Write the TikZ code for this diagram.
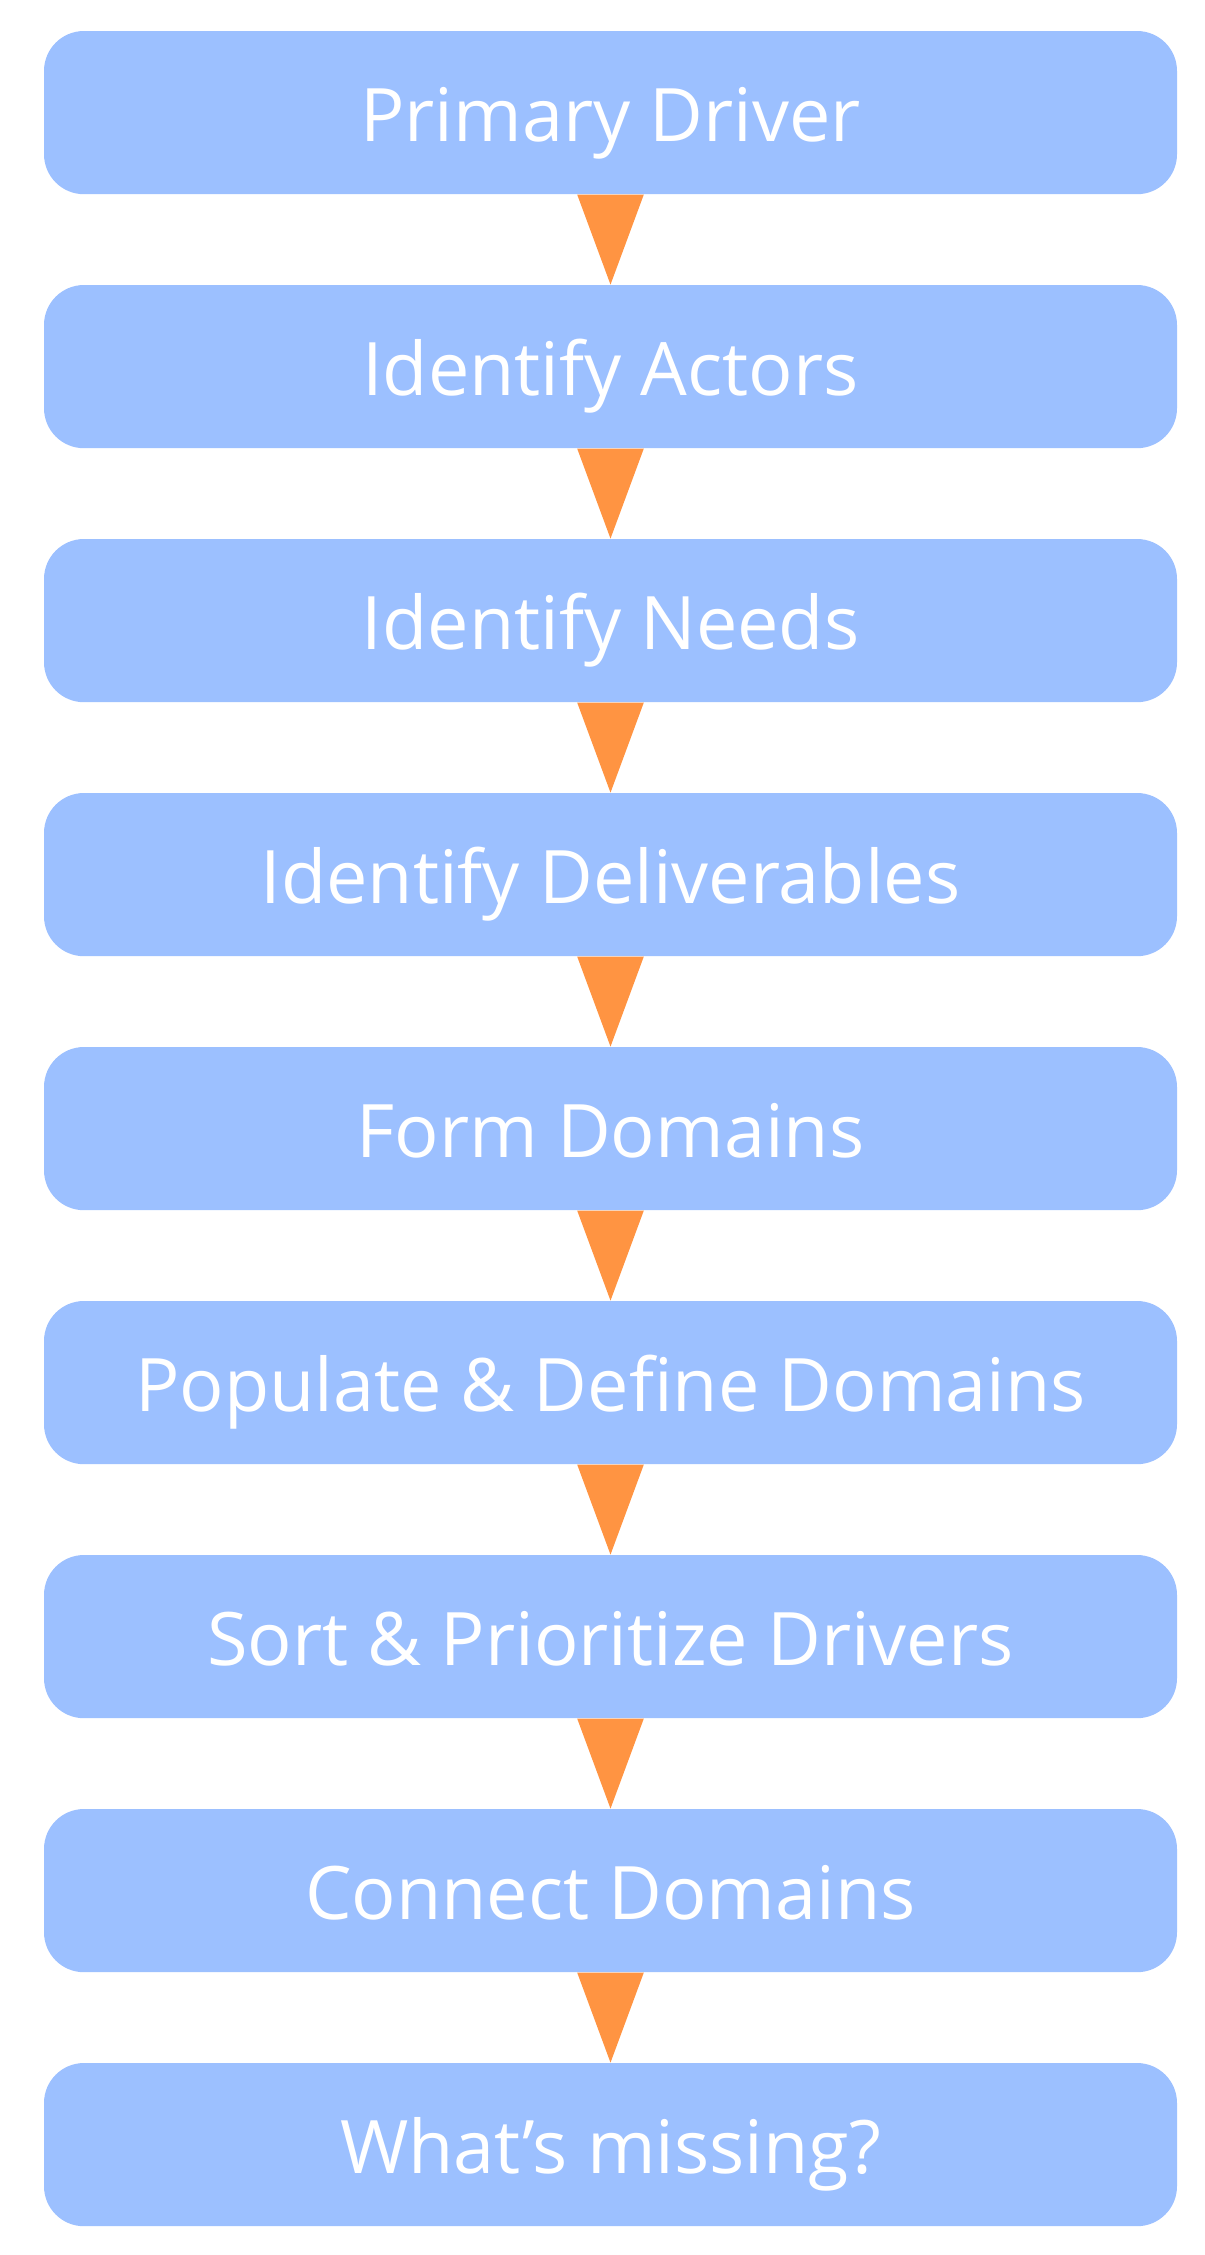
\documentclass[tikz,border=0pt]{standalone}
\usepackage{fontspec}
\setmainfont{Open Sans}
\definecolor{boxblue}{RGB}{156,192,255}
\definecolor{arroworange}{RGB}{255,148,66}
\begin{document}
\begin{tikzpicture}[x=0.5pt,y=-0.5pt,
  stepbox/.style={rectangle, rounded corners=20pt, fill=boxblue, draw=none,
    minimum width=566.5pt, minimum height=81.6pt, inner sep=0pt,
    text height=29.1pt, text depth=0pt, text=white,
    font=\fontsize{36.9pt}{44pt}\selectfont},
  wedge/.style={fill=arroworange, draw=none}]
\useasboundingbox (0,0) rectangle (1205,2255);
\fill[white] (0,0) rectangle (1205,2255);
\node[stepbox] (b1) at (610.5,112.6) {Primary Driver};
\node[stepbox] (b2) at (610.5,366.6) {Identify Actors};
\node[stepbox] (b3) at (610.5,620.6) {Identify Needs};
\node[stepbox] (b4) at (610.5,874.6) {Identify Deliverables};
\node[stepbox] (b5) at (610.5,1128.6) {Form Domains};
\node[stepbox] (b6) at (610.5,1382.6) {Populate \& Define Domains};
\node[stepbox] (b7) at (610.5,1636.6) {Sort \& Prioritize Drivers};
\node[stepbox] (b8) at (610.5,1890.6) {Connect Domains};
\node[stepbox] (b9) at (610.5,2144.6) {What’s missing?};
\foreach \a/\b in {b1/b2,b2/b3,b3/b4,b4/b5,b5/b6,b6/b7,b7/b8,b8/b9}{
  \fill[wedge] ([xshift=-16.65pt]\a.south) -- ([xshift=16.65pt]\a.south) -- (\b.north) -- cycle;
}
\end{tikzpicture}
\end{document}
